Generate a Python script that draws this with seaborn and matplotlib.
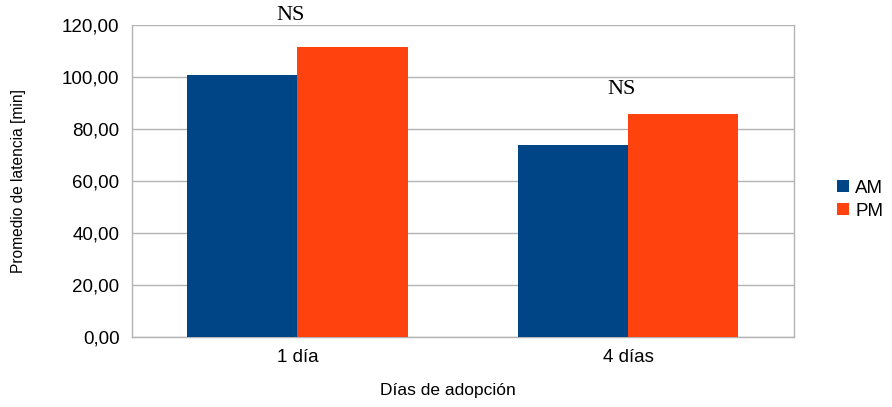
import pandas as pd
import matplotlib.pyplot as plt
import seaborn as sns

dias = ["1 día", "4 días"]
am = [100.8, 73.8]
pm = [111.5, 85.8]
ns_y = [123.8, 95.0]

df = pd.DataFrame({
    "dia": dias * 2,
    "turno": ["AM"] * 2 + ["PM"] * 2,
    "latencia": am + pm,
})

sns.set_style("white")
plt.rcParams["font.family"] = ["Liberation Sans", "DejaVu Sans"]
plt.rcParams["text.color"] = "black"
plt.rcParams["axes.labelcolor"] = "black"
plt.rcParams["xtick.labelcolor"] = "black"
plt.rcParams["ytick.labelcolor"] = "black"

fig = plt.figure(figsize=(8.92, 4.07), dpi=100)
ax = fig.add_axes([0.148, 0.172, 0.7416, 0.7666])

sns.barplot(data=df, x="dia", y="latencia", hue="turno",
            palette={"AM": "#004586", "PM": "#ff420e"},
            width=0.667, saturation=1, linewidth=0, ax=ax, zorder=3)

grid_c = "#b3b3b3"
ax.set_ylim(0, 120)
ax.set_xlim(-0.5, 1.5)
ax.set_yticks(range(0, 121, 20))
ax.set_yticklabels([f"{v:.2f}".replace(".", ",") for v in range(0, 121, 20)], fontsize=13.5)
ax.yaxis.grid(True, color=grid_c, linewidth=1, zorder=0)
ax.set_axisbelow(True)

# x ticks at category boundaries, labels centered
ax.set_xticks([-0.5, 0.5, 1.5])
ax.set_xticklabels([])
ax.set_xticks([0, 1], minor=True)
ax.set_xticklabels(dias, minor=True, fontsize=13.5)
ax.tick_params(axis="x", which="major", length=8, color=grid_c, width=1)
ax.tick_params(axis="x", which="minor", length=0, pad=9)
ax.tick_params(axis="y", length=6, color=grid_c, width=1, pad=3)

for s in ax.spines.values():
    s.set_color(grid_c)
    s.set_linewidth(1)
ax.spines["top"].set_visible(False)

ax.set_xlabel("Días de adopción", fontsize=12.5)
ax.xaxis.set_label_coords(0.478, -0.148)
ax.set_ylabel("Promedio de latencia [min]", fontsize=11.2)
ax.yaxis.set_label_coords(-0.16, 0.5)

for i, y in enumerate(ns_y):
    ax.text(i - 0.02, y, "NS", ha="center", va="center", fontsize=16,
            family=["Liberation Serif", "DejaVu Serif"], clip_on=False)

ax.legend(title=None, frameon=False, fontsize=13.5, loc="center left",
          bbox_to_anchor=(1.055, 0.44), handlelength=0.6, handleheight=0.6,
          handletextpad=0.35, labelspacing=0.3, borderaxespad=0)

fig.savefig("out.png", dpi=100)
